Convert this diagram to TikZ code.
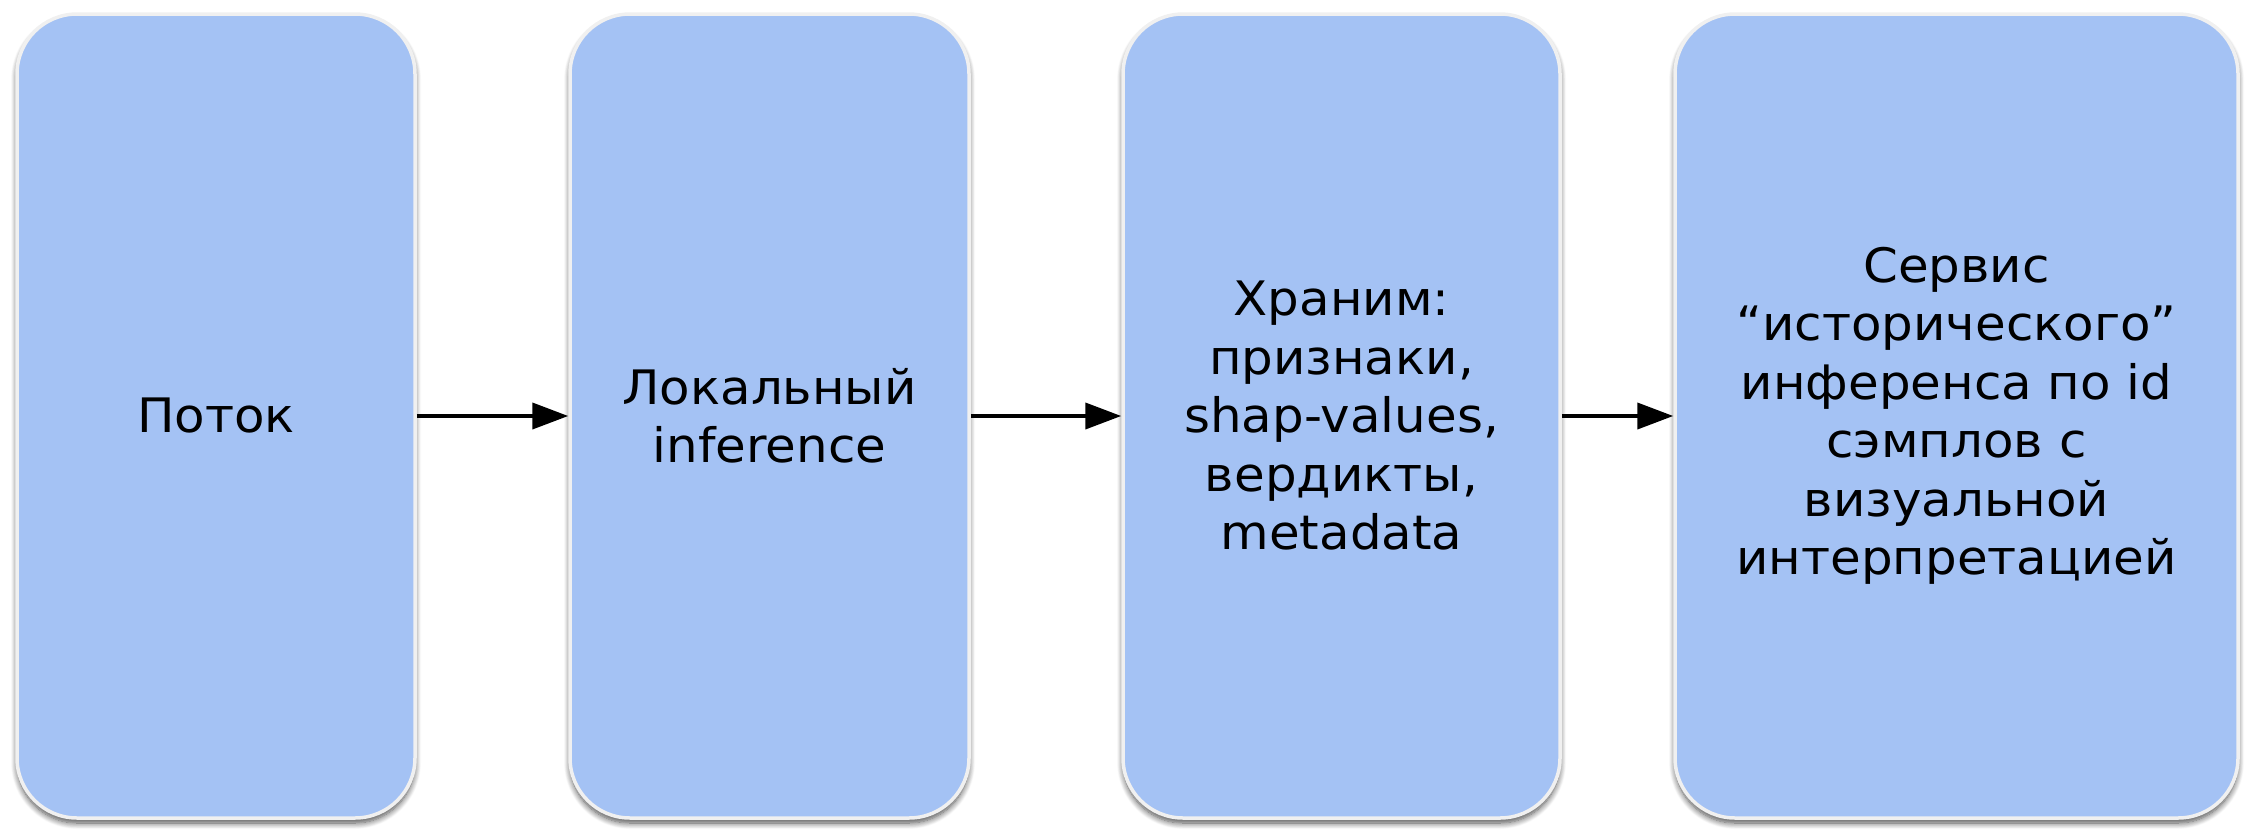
\documentclass[tikz,border=0pt]{standalone}
\usepackage{fontspec}
\setmainfont[FakeStretch=1.05]{DejaVu Sans}
\usetikzlibrary{arrows.meta,shadows.blur}

\definecolor{boxblue}{HTML}{A4C2F4}
\definecolor{boxrim}{HTML}{F0F0F0}

\tikzset{
  stage/.style={
    rectangle, rounded corners=60pt,
    fill=boxblue, draw=boxrim, line width=3.5pt,
    minimum height=804pt, inner sep=0pt,
    align=center, text=black,
    font=\fontsize{47.5}{58.5}\selectfont,
    blur shadow={shadow xshift=0pt, shadow yshift=-5pt,
                 shadow blur steps=10, shadow blur radius=6pt,
                 shadow opacity=70}
  },
  flow/.style={line width=4pt, draw=black,
    -{Triangle[length=36pt,width=26pt]}}
}

\begin{document}
\begin{tikzpicture}[x=1pt,y=-1pt]
  \useasboundingbox (0,0) rectangle (2251,830);

  \node[stage, minimum width=398pt] (src)   at (216,416)    {Поток};
  \node[stage, minimum width=399pt] (local) at (769.5,416)  {Локальный\\inference};
  \node[stage, minimum width=437pt] (store) at (1341.5,416) {Храним:\\признаки,\\shap-values,\\вердикты,\\metadata};
  \node[stage, minimum width=563pt] (hist)  at (1956.5,416) {Сервис\\“исторического”\\инференса по id\\сэмплов с\\визуальной\\интерпретацией};

  \draw[flow] (src)   -- (local);
  \draw[flow] (local) -- (store);
  \draw[flow] (store) -- (hist);
\end{tikzpicture}
\end{document}
